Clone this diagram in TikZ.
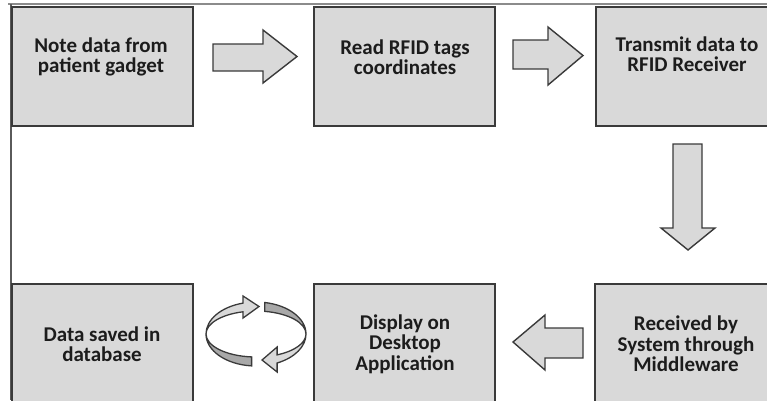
\documentclass[tikz,border=0pt]{standalone}
\usepackage{fontspec}
\setmainfont{Carlito}
\definecolor{boxfill}{HTML}{D9D9D9}
\definecolor{boxline}{HTML}{3A3A3A}
\definecolor{bandfill}{HTML}{A8A8A8}
\definecolor{framecol}{HTML}{5A5A5A}
\definecolor{txt}{HTML}{1C1C1C}
\tikzset{
  box/.style={draw=boxline, fill=boxfill, line width=1.6pt, minimum width=181, minimum height=119, anchor=north west, inner sep=0},
  blockarrow/.style={draw=boxline, fill=boxfill, line width=1.4pt, line join=miter},
  lbl/.style={font=\fontsize{21}{20.5}\selectfont\bfseries, align=center, text=txt, inner sep=0},
  frameline/.style={draw=framecol, line width=1.2pt},
  ringarrow/.style={draw=boxline, fill=boxfill, line width=1.3pt, line join=miter},
  ringband/.style={draw=boxline, fill=bandfill, line width=1.3pt},
}
\begin{document}
\begin{tikzpicture}[x=1pt,y=-1pt]
\useasboundingbox (0,0) rectangle (767,400);
\clip (0,0) rectangle (767,400);
% frame
\draw[frameline, draw=framecol!70] (8,4) -- (767,4);
\draw[frameline] (11,4) -- (11,400);
% boxes
\node[box] (b1) at (11,6) {};
\node[box] (b2) at (313,6) {};
\node[box] (b3) at (595,6) {};
\node[box] (b4) at (594,283) {};
\node[box] (b5) at (313,283) {};
\node[box] (b6) at (11,283) {};
% texts
\node[lbl] (t1) at (101,57) {Note data from\\patient gadget};
\node[lbl] (t2) at (405,57) {Read RFID tags\\coordinates};
\node[lbl] (t3) at (687,54) {Transmit data to\\RFID Receiver};
\node[lbl] (t4) at (686,344) {Received by\\System through\\Middleware};
\node[lbl] (t5) at (405,344) {Display on\\Desktop\\Application};
\node[lbl] (t6) at (102,344) {Data saved in\\database};
% block arrows
\draw[blockarrow] (213,44) -- (263,44) -- (263,30) -- (297,56.5) -- (263,83) -- (263,71) -- (213,71) -- cycle;
\draw[blockarrow] (513,40) -- (548,40) -- (548,27) -- (583,55.5) -- (548,85) -- (548,69) -- (513,69) -- cycle;
\draw[blockarrow] (673,144) -- (702,144) -- (702,228) -- (715,228) -- (688,250) -- (661,228) -- (673,228) -- cycle;
\draw[blockarrow] (583,328) -- (545,328) -- (545,315) -- (513,342) -- (545,370) -- (545,358) -- (583,358) -- cycle;
% circular arrows
\draw[ringband] (251.64,365.88) arc[start angle=95,end angle=180,x radius=50,y radius=32]
  arc[start angle=180,end angle=95,x radius=50,y radius=23] -- cycle;
\draw[ringband] (264.68,302.49) arc[start angle=280,end angle=360,x radius=50,y radius=32]
  arc[start angle=360,end angle=280,x radius=50,y radius=23] -- cycle;
\draw[ringarrow] (206,334) arc[start angle=180,end angle=255,x radius=50,y radius=32]
  -- (243.06,296) -- (259,306.5) -- (243.06,318) -- (243.06,311.78)
  arc[start angle=255,end angle=180,x radius=50,y radius=23] -- cycle;
\draw[ringarrow] (306,334) arc[start angle=0,end angle=65,x radius=50,y radius=32]
  -- (277.13,372) -- (262,360) -- (277.13,347) -- (277.13,354.85)
  arc[start angle=65,end angle=0,x radius=50,y radius=23] -- cycle;
\end{tikzpicture}
\end{document}
